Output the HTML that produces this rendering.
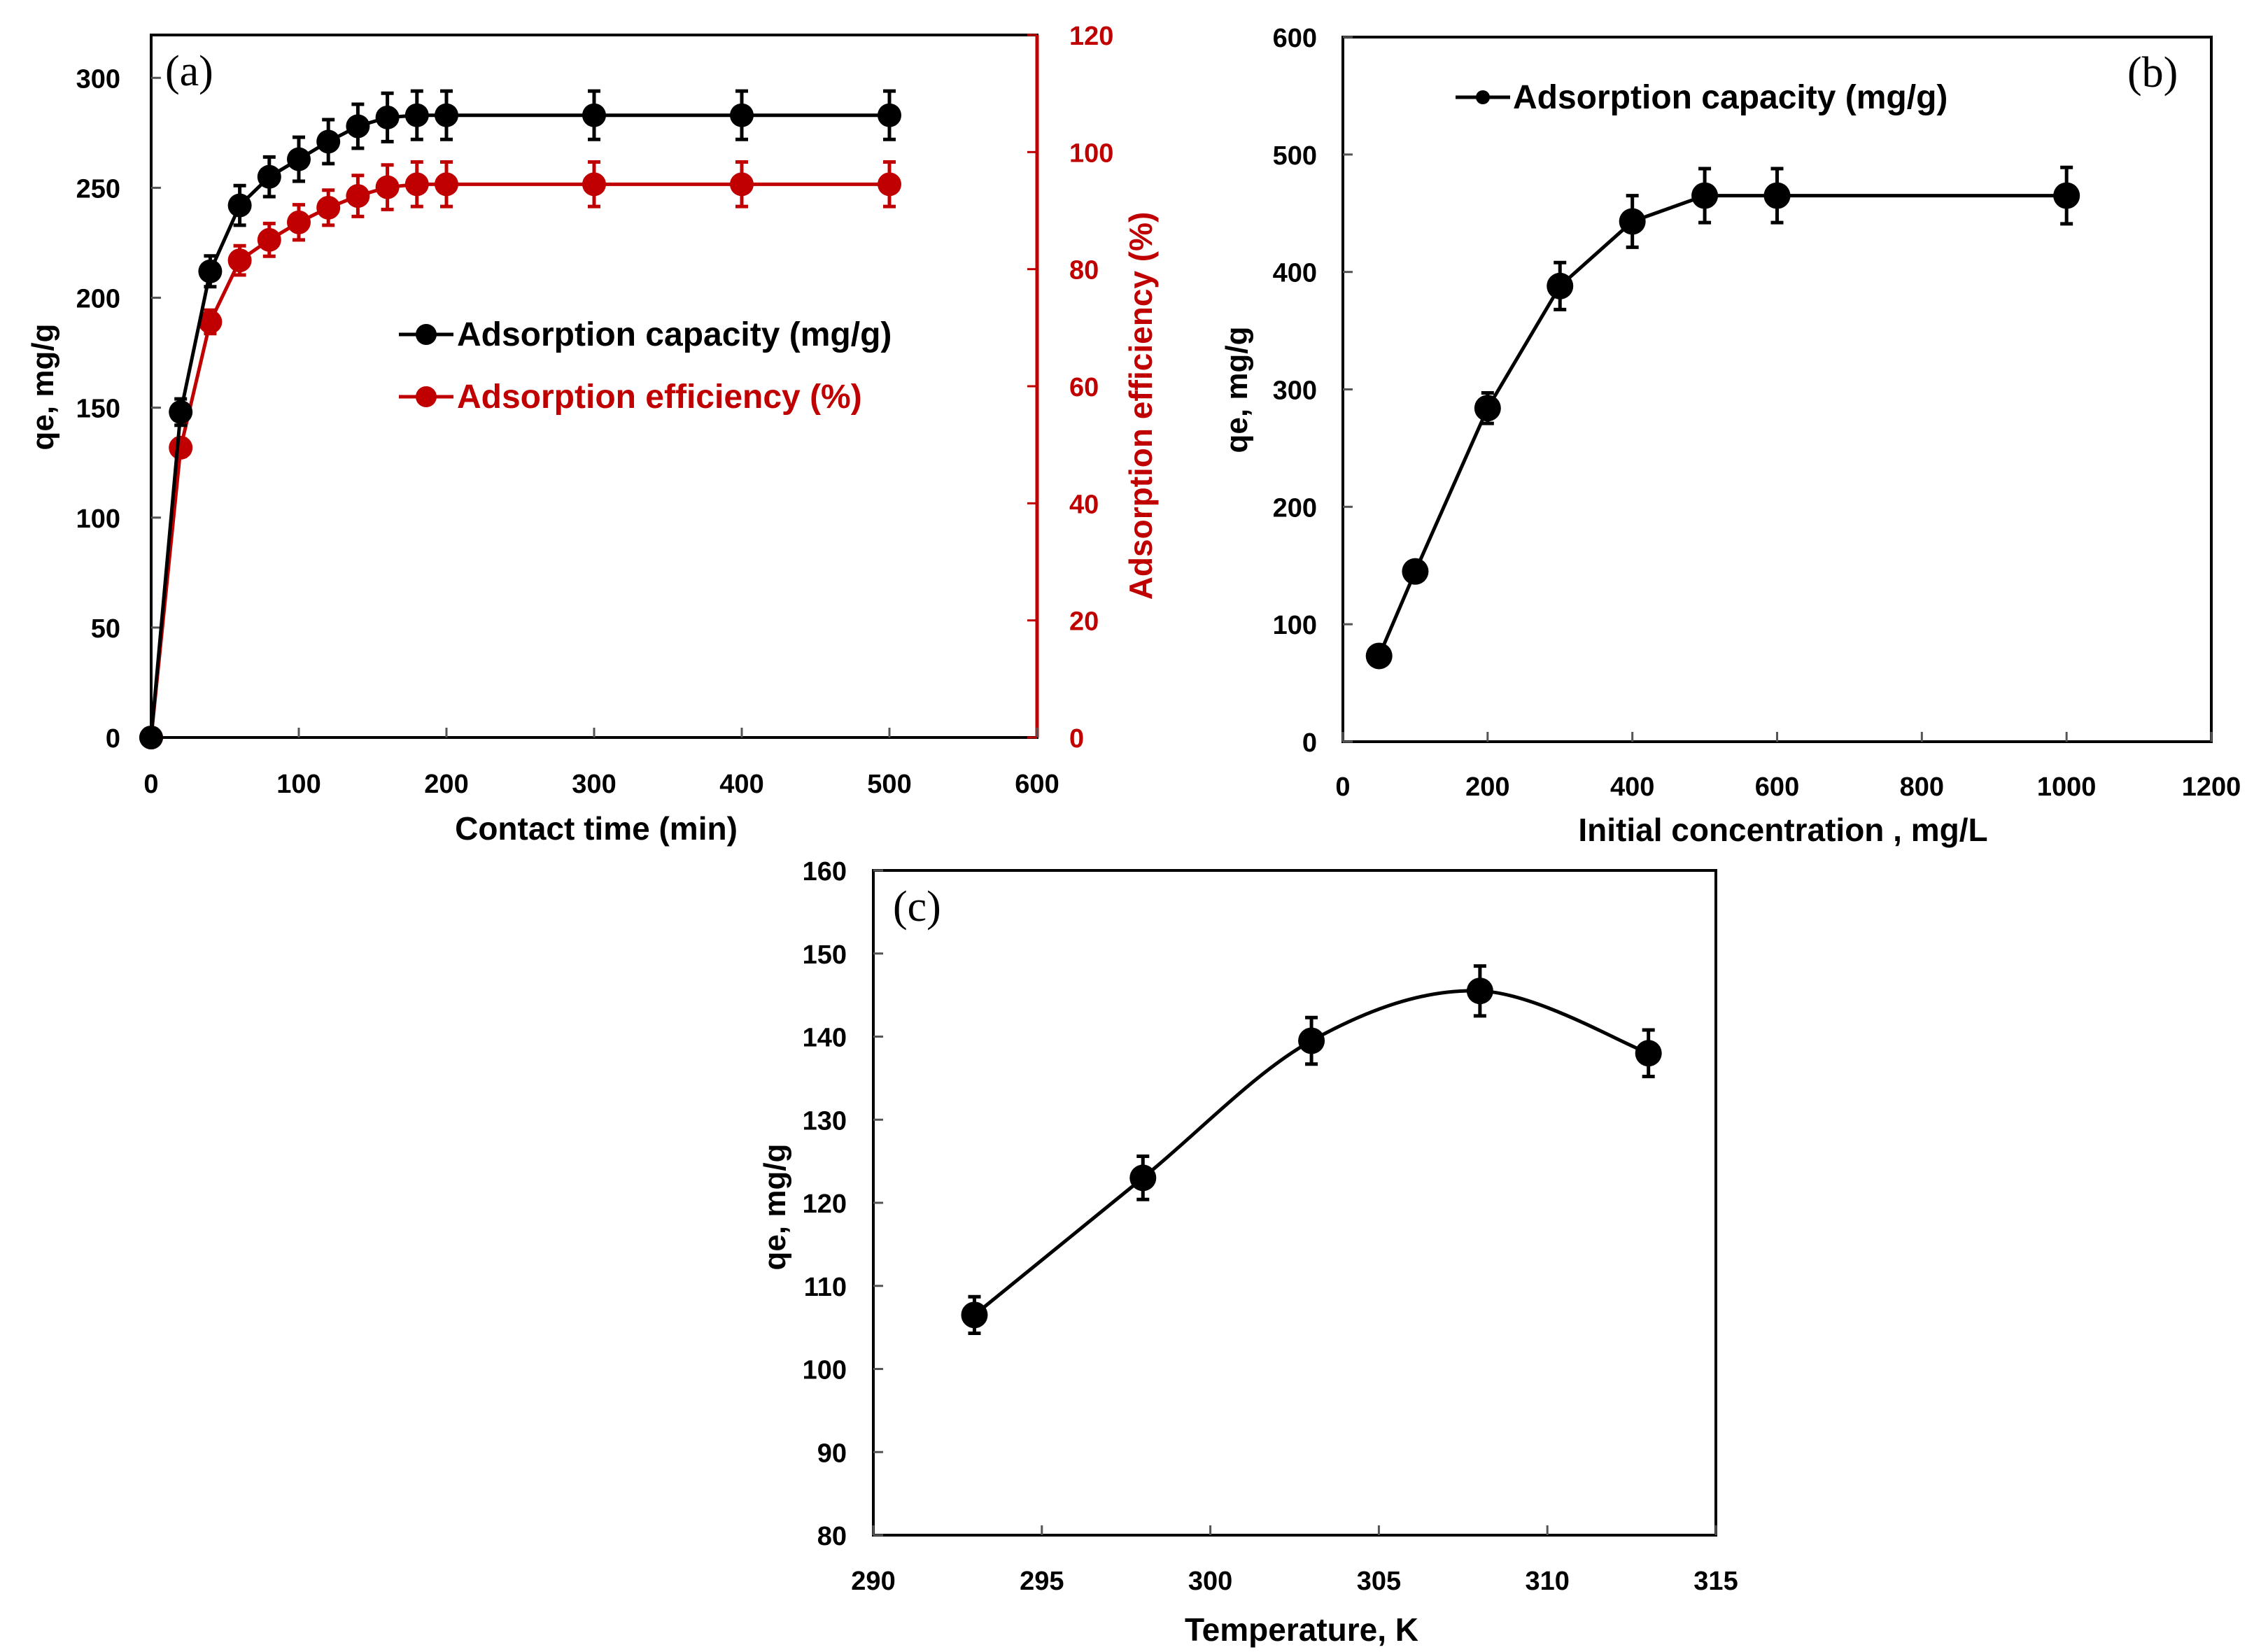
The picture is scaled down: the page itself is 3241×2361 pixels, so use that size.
<!DOCTYPE html>
<html><head><meta charset="utf-8"><style>
html,body{margin:0;padding:0;background:#fff;}
svg{display:block;font-family:"Liberation Sans",Arial,sans-serif;}
</style></head><body>
<svg id="fig" width="3241" height="2361" viewBox="0 0 3241 2361" xmlns="http://www.w3.org/2000/svg"></svg>
<script>
// ---- Panel (a) data ----
const aTime = [0,20,40,60,80,100,120,140,160,180,200,300,400,500];
const aCapacity = [0,148,212,242,255,263,271,278,282,283,283,283,283,283];
const aCapErr = [0,6,7,9,9,10,10,10,11,11,11,11,11,11];
const aEfficiency = [0,49.5,71,81.5,85,88,90.5,92.5,94,94.5,94.5,94.5,94.5,94.5];
const aEffErr = [0,1.5,2,2.5,2.8,3,3,3.5,3.8,3.8,3.8,3.8,3.8,3.8];
const aXTicks = [0,100,200,300,400,500,600];
const aYTicks = [0,50,100,150,200,250,300];
const aY2Ticks = [0,20,40,60,80,100,120];
// ---- Panel (b) data ----
const bConc = [50,100,200,300,400,500,600,1000];
const bCapacity = [73,145,284,388,443,465,465,465];
const bErr = [0,0,13,20,22,23,23,24];
const bXTicks = [0,200,400,600,800,1000,1200];
const bYTicks = [0,100,200,300,400,500,600];
// ---- Panel (c) data ----
const cTemp = [293,298,303,308,313];
const cCapacity = [106.5,123,139.5,145.5,138];
const cErr = [2.2,2.6,2.8,3,2.8];
const cXTicks = [290,295,300,305,310,315];
const cYTicks = [80,90,100,110,120,130,140,150,160];

const NS="http://www.w3.org/2000/svg";
const svg=document.getElementById('fig');
function el(tag,attrs,parent,text){
  const e=document.createElementNS(NS,tag);
  for(const k in attrs) e.setAttribute(k,attrs[k]);
  if(text!==undefined) e.textContent=text;
  (parent||svg).appendChild(e);
  return e;
}
function scale(d0,d1,r0,r1){return v=>r0+(v-d0)*(r1-r0)/(d1-d0);}

function frame(g,L,R,T,B){
  const f=el('rect',{x:L,y:T,width:R-L,height:B-T,fill:'none',stroke:'#000','stroke-width':4},g);
  
  
}
function xAxis(g,ticks,sx,B,ly,name){
  ticks.forEach(t=>{
    const l=el('line',{x1:sx(t),x2:sx(t),y1:B,y2:B-14,stroke:'#555','stroke-width':3},g);
    
    
    const tx=el('text',{x:sx(t),y:ly,'font-size':38,'font-weight':'bold','text-anchor':'middle'},g,String(t));
    
    
  });
}
function yAxis(g,ticks,sy,L,lx,name,color,right){
  ticks.forEach(t=>{
    const l=el('line',{x1:L,x2:right?L-14:L+14,y1:sy(t),y2:sy(t),stroke:color||'#555','stroke-width':3},g);
    
    
    const tx=el('text',{x:lx,y:sy(t)+14,'font-size':38,'font-weight':'bold','text-anchor':right?'start':'end',fill:color||'#000'},g,String(t));
    
    
  });
}
function series(g,xs,ys,es,sx,sy,color,r,name,smooth){
  const pts=xs.map((x,i)=>[sx(x),sy(ys[i])]);
  let d='M'+pts[0][0]+','+pts[0][1];
  if(smooth){
    for(let i=0;i<pts.length-1;i++){
      const p0=pts[Math.max(0,i-1)],p1=pts[i],p2=pts[i+1],p3=pts[Math.min(pts.length-1,i+2)];
      const c1=[p1[0]+(p2[0]-p0[0])/6,p1[1]+(p2[1]-p0[1])/6];
      const c2=[p2[0]-(p3[0]-p1[0])/6,p2[1]-(p3[1]-p1[1])/6];
      d+=' C'+c1+' '+c2+' '+p2;
    }
  } else pts.slice(1).forEach(p=>d+=' L'+p[0]+','+p[1]);
  const line=el('path',{d:d,fill:'none',stroke:color,'stroke-width':5},g);
  
  
  xs.forEach((x,i)=>{
    if(es[i]>0){
      const cx=sx(x),y1=sy(ys[i]+es[i]),y2=sy(ys[i]-es[i]);
      const eb=el('path',{d:`M${cx},${y1} L${cx},${y2} M${cx-9},${y1} L${cx+9},${y1} M${cx-9},${y2} L${cx+9},${y2}`,stroke:color,'stroke-width':5,fill:'none'},g);
      
      
    }
    const c=el('circle',{cx:sx(x),cy:sy(ys[i]),r:r,fill:color},g);
    
    
  });
}
function text(g,attrs,str,name){
  const t=el('text',attrs,g,str);
  
  
  return t;
}

// ===== Panel A =====
(function(){
  const g=el('g',{});
  
  
  const L=216,R=1482,T=50,B=1054;
  const sx=scale(0,600,L,R), sy=scale(0,319.5,B,T), sy2=scale(0,120,B,T);
  frame(g,L,R,T,B);
  const ra=el('line',{x1:R,x2:R,y1:T,y2:B,stroke:'#c00000','stroke-width':5},g);
  
  
  xAxis(g,aXTicks,sx,B,1133,'a');
  yAxis(g,aYTicks,sy,L,172,'a');
  yAxis(g,aY2Ticks,sy2,R,1528,'a-right','#c00000',true);
  series(g,aTime,aEfficiency,aEffErr,sx,sy2,'#c00000',17,'efficiency');
  series(g,aTime,aCapacity,aCapErr,sx,sy,'#000',17,'capacity');
  text(g,{x:236,y:122,'font-size':62,'font-family':'Liberation Serif, serif'},'(a)','panel-a-label');
  text(g,{x:852,y:1200,'font-size':46,'font-weight':'bold','text-anchor':'middle'},'Contact time (min)','a-x-axis-title');
  text(g,{x:0,y:0,'font-size':44,'font-weight':'bold','text-anchor':'middle',transform:'translate(76,553) rotate(-90)'},'qe, mg/g','a-y-axis-title');
  text(g,{x:0,y:0,'font-size':46,'font-weight':'bold','text-anchor':'middle',fill:'#c00000',transform:'translate(1646,580) rotate(-90)'},'Adsorption efficiency (%)','a-right-axis-title');
  [['#000','Adsorption capacity (mg/g)',478],['#c00000','Adsorption efficiency (%)',567]].forEach(([c,s,y])=>{
    const lg=el('g',{},g);
    
    
    el('line',{x1:570,x2:648,y1:y,y2:y,stroke:c,'stroke-width':5},lg);
    el('circle',{cx:609,cy:y,r:15,fill:c},lg);
    text(lg,{x:653,y:y+16,'font-size':48,'font-weight':'bold',fill:c},s,'legend-label');
  });
})();

// ===== Panel B =====
(function(){
  const g=el('g',{});
  
  
  const L=1919,R=3160,T=53,B=1060;
  const sx=scale(0,1200,L,R), sy=scale(0,600,B,T);
  frame(g,L,R,T,B);
  xAxis(g,bXTicks,sx,B,1137,'b');
  yAxis(g,bYTicks,sy,L,1882,'b');
  series(g,bConc,bCapacity,bErr,sx,sy,'#000',19,'capacity-b');
  text(g,{x:3040,y:124,'font-size':62,'font-family':'Liberation Serif, serif'},'(b)','panel-b-label');
  text(g,{x:2548,y:1202,'font-size':46,'font-weight':'bold','text-anchor':'middle'},'Initial  concentration , mg/L','b-x-axis-title');
  text(g,{x:0,y:0,'font-size':44,'font-weight':'bold','text-anchor':'middle',transform:'translate(1782,557) rotate(-90)'},'qe, mg/g','b-y-axis-title');
  const lg=el('g',{},g);
  
  
  el('line',{x1:2080,x2:2158,y1:139,y2:139,stroke:'#000','stroke-width':5},lg);
  el('circle',{cx:2119,cy:139,r:10,fill:'#000'},lg);
  text(lg,{x:2162,y:155,'font-size':48,'font-weight':'bold'},'Adsorption capacity (mg/g)','legend-label');
})();

// ===== Panel C =====
(function(){
  const g=el('g',{});
  
  
  const L=1248,R=2452,T=1244,B=2194;
  const sx=scale(290,315,L,R), sy=scale(80,160,B,T);
  frame(g,L,R,T,B);
  xAxis(g,cXTicks,sx,B,2272,'c');
  yAxis(g,cYTicks,sy,L,1210,'c');
  series(g,cTemp,cCapacity,cErr,sx,sy,'#000',19,'capacity-c',true);
  text(g,{x:1276,y:1316,'font-size':62,'font-family':'Liberation Serif, serif'},'(c)','panel-c-label');
  text(g,{x:1860,y:2345,'font-size':46,'font-weight':'bold','text-anchor':'middle'},'Temperature, K','c-x-axis-title');
  text(g,{x:0,y:0,'font-size':44,'font-weight':'bold','text-anchor':'middle',transform:'translate(1122,1725) rotate(-90)'},'qe, mg/g','c-y-axis-title');
})();
</script>
</body></html>
